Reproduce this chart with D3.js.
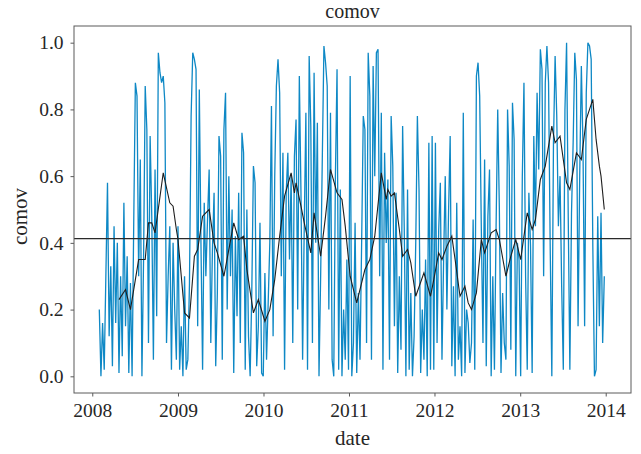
<!DOCTYPE html>
<html>
<head>
<meta charset="utf-8">
<script src="https://cdn.jsdelivr.net/npm/d3@7"></script>
<style>
  body { margin: 0; background: #fff; }
  svg { display: block; font-family: "Liberation Serif", serif; }
</style>
</head>
<body>
<script>
// weekly comov values
const comov2008 = [0.20, 0.00, 0.16, 0.02, 0.30, 0.58, 0.12, 0.33, 0.03, 0.45,
  0.16, 0.40, 0.01, 0.30, 0.06, 0.52, 0.15, 0.36, 0.01, 0.28,
  0.00, 0.46, 0.88, 0.84, 0.30, 0.65, 0.00, 0.35, 0.87, 0.74,
  0.10, 0.72, 0.48, 0.05, 0.62, 0.18, 0.97, 0.91, 0.88, 0.90,
  0.82, 0.10, 0.30, 0.45, 0.02, 0.40, 0.20, 0.05];
const comov2009 = [0.45, 0.02, 0.15, 0.00, 0.30, 0.02, 0.05, 0.28, 0.78, 0.97,
  0.95, 0.92, 0.15, 0.86, 0.40, 0.02, 0.52, 0.30, 0.47, 0.62,
  0.10, 0.38, 0.55, 0.03, 0.25, 0.72, 0.66, 0.05, 0.74, 0.85,
  0.20, 0.60, 0.30, 0.50, 0.01, 0.42, 0.18, 0.55, 0.10, 0.73,
  0.67, 0.02, 0.50, 0.12, 0.00, 0.25, 0.63, 0.58, 0.03, 0.15,
  0.46, 0.01];
const comov2010 = [0.00, 0.31, 0.05, 0.22, 0.40, 0.81, 0.12, 0.60, 0.87, 0.95,
  0.85, 0.30, 0.67, 0.02, 0.55, 0.67, 0.35, 0.60, 0.10, 0.66,
  0.77, 0.20, 0.90, 0.55, 0.05, 0.45, 0.79, 0.02, 0.96, 0.75,
  0.10, 0.91, 0.40, 0.76, 0.00, 0.30, 0.65, 0.99, 0.94, 0.87,
  0.20, 0.79, 0.05, 0.00, 0.60, 0.92, 0.02, 0.56, 0.00, 0.20,
  0.05, 0.35];
const comov2011 = [0.02, 0.90, 0.00, 0.10, 0.46, 0.01, 0.25, 0.05, 0.40, 0.78,
  0.74, 0.10, 0.97, 0.84, 0.05, 0.93, 0.60, 0.97, 0.98, 0.30,
  0.79, 0.02, 0.67, 0.40, 0.59, 0.05, 0.78, 0.63, 0.15, 0.55,
  0.01, 0.30, 0.08, 0.75, 0.44, 0.00, 0.56, 0.02, 0.25, 0.00,
  0.12, 0.40, 0.78, 0.56, 0.01, 0.20, 0.05, 0.35, 0.00, 0.70,
  0.02, 0.72];
const comov2012 = [0.02, 0.70, 0.10, 0.44, 0.58, 0.05, 0.35, 0.60, 0.20, 0.49,
  0.72, 0.03, 0.27, 0.00, 0.52, 0.05, 0.15, 0.00, 0.79, 0.01,
  0.20, 0.16, 0.04, 0.10, 0.47, 0.02, 0.90, 0.94, 0.84, 0.44,
  0.10, 0.65, 0.03, 0.48, 0.62, 0.00, 0.30, 0.02, 0.45, 0.80,
  0.50, 0.01, 0.25, 0.10, 0.05, 0.80, 0.63, 0.08, 0.82, 0.71,
  0.00, 0.40];
const comov2013 = [0.35, 0.00, 0.60, 0.88, 0.30, 0.02, 0.55, 0.39, 0.01, 0.72,
  0.45, 0.85, 0.62, 0.98, 0.92, 0.30, 0.88, 0.99, 0.88, 0.39,
  0.00, 0.70, 0.96, 0.78, 0.45, 0.60, 0.27, 0.02, 0.80, 1.00,
  0.48, 0.02, 0.49, 0.70, 0.97, 0.89, 0.15, 0.60, 0.93, 0.69,
  0.15, 0.85, 1.00, 0.99, 0.95, 0.39, 0.00, 0.02, 0.48, 0.15,
  0.49, 0.10, 0.30];

// smoothed line: week number (from first date) and value
const smoothWeeks = [12, 16, 19, 24, 28, 30, 32, 34, 39, 43, 45, 47, 48, 52, 55, 58, 60, 63, 67, 70,
  72, 76, 82, 85, 88, 90, 94, 97, 101, 104, 107, 110, 113, 117, 119, 120, 123, 125, 129, 131,
  135, 138, 141, 145, 148, 150, 153, 157, 162, 165, 168, 172, 175, 176, 178, 180, 183, 185, 188, 190,
  193, 198, 202, 204, 207, 209, 212, 215, 217, 220, 223, 225, 227, 230, 233, 235, 239, 242, 244, 248,
  251, 254, 257, 261, 264, 266, 269, 272, 276, 278, 281, 285, 287, 291, 294, 297, 301, 303, 305, 306, 308];
const smoothValues = [0.23, 0.26, 0.20, 0.35, 0.35, 0.46, 0.46, 0.43, 0.61, 0.52, 0.51, 0.44, 0.41, 0.19, 0.175, 0.36, 0.38, 0.48, 0.50, 0.40,
  0.37, 0.30, 0.46, 0.41, 0.42, 0.32, 0.19, 0.23, 0.165, 0.20, 0.29, 0.42, 0.54, 0.61, 0.55, 0.58, 0.51, 0.46, 0.37, 0.49,
  0.36, 0.48, 0.62, 0.55, 0.53, 0.45, 0.30, 0.22, 0.32, 0.35, 0.42, 0.61, 0.53, 0.56, 0.54, 0.55, 0.44, 0.36, 0.38, 0.34,
  0.24, 0.31, 0.24, 0.29, 0.37, 0.35, 0.39, 0.42, 0.35, 0.24, 0.27, 0.22, 0.20, 0.25, 0.41, 0.37, 0.43, 0.44, 0.41, 0.30,
  0.36, 0.41, 0.35, 0.49, 0.44, 0.47, 0.59, 0.63, 0.75, 0.70, 0.72, 0.58, 0.56, 0.67, 0.65, 0.77, 0.83, 0.71, 0.63, 0.60, 0.50];

const meanLevel = 0.413;
const yearTicks = [2008, 2009, 2010, 2011, 2012, 2013, 2014];
const yTicks = [0.0, 0.2, 0.4, 0.6, 0.8, 1.0];
const firstDate = new Date(2008, 0, 31);

const comov = [].concat(comov2008, comov2009, comov2010, comov2011, comov2012, comov2013);
const weekDate = i => d3.timeDay.offset(firstDate, 7 * i);
const raw = comov.map((v, i) => ({ date: weekDate(i), value: v }));
const smooth = smoothWeeks.map((w, i) => ({ date: weekDate(w), value: smoothValues[i] }));

// dimensions and margins
const margin = { top: 26, right: 10, bottom: 61, left: 74 };
const width = 641 - margin.left - margin.right;
const height = 454 - margin.top - margin.bottom;

const x = d3.scaleTime()
  .domain([new Date(2007, 9, 15), new Date(2014, 3, 19)])
  .range([0, width]);
const y = d3.scaleLinear().domain([-0.05, 1.05]).range([height, 0]);

const svg = d3.select('body').append('svg')
  .attr('width', 641)
  .attr('height', 454);
const g = svg.append('g')
  .attr('transform', 'translate(' + margin.left + ',' + margin.top + ')');

g.append('clipPath').attr('id', 'plot')
  .append('rect').attr('width', width).attr('height', height);

const line = d3.line()
  .x(d => x(d.date))
  .y(d => y(d.value));

const plot = g.append('g').attr('clip-path', 'url(#plot)');

plot.append('path')
  .datum(raw)
  .attr('fill', 'none')
  .attr('stroke', '#0e88c5')
  .attr('stroke-width', 1.3)
  .attr('d', line);

plot.append('path')
  .datum(smooth)
  .attr('fill', 'none')
  .attr('stroke', '#1e1e1e')
  .attr('stroke-width', 1.1)
  .attr('d', line);

plot.append('line')
  .attr('x1', 0).attr('x2', width)
  .attr('y1', y(meanLevel)).attr('y2', y(meanLevel))
  .attr('stroke', '#2a2a2a')
  .attr('stroke-width', 1.2);

// axes
const xAxis = g.append('g')
  .attr('transform', 'translate(0,' + height + ')')
  .call(d3.axisBottom(x)
    .tickValues(yearTicks.map(yr => new Date(yr, 0, 1)))
    .tickFormat(d3.timeFormat('%Y'))
    .tickSize(3.5).tickSizeOuter(0).tickPadding(6.5));

const yAxis = g.append('g')
  .call(d3.axisLeft(y)
    .tickValues(yTicks)
    .tickFormat(d3.format('.1f'))
    .tickSize(3.5).tickSizeOuter(0).tickPadding(7));

[xAxis, yAxis].forEach(a => {
  a.select('.domain').remove();
  a.selectAll('.tick line').attr('stroke', '#5a5a5a');
  a.selectAll('.tick text')
    .attr('fill', '#262626')
    .style('font-size', '19.5px')
    .style('font-family', '"Liberation Serif", serif');
});

// frame
g.append('rect')
  .attr('width', width).attr('height', height)
  .attr('fill', 'none')
  .attr('stroke', '#5a5a5a')
  .attr('stroke-width', 1);

// labels
svg.append('text')
  .attr('x', margin.left + width / 2).attr('y', 18)
  .attr('text-anchor', 'middle')
  .attr('fill', '#262626')
  .style('font-size', '20px')
  .text('comov');

svg.append('text')
  .attr('x', margin.left + width / 2).attr('y', 445)
  .attr('text-anchor', 'middle')
  .attr('fill', '#262626')
  .style('font-size', '21px')
  .text('date');

svg.append('text')
  .attr('transform', 'translate(27,' + (margin.top + height / 2 + 7) + ') rotate(-90)')
  .attr('text-anchor', 'middle')
  .attr('fill', '#262626')
  .style('font-size', '21px')
  .text('comov');
</script>
</body>
</html>
